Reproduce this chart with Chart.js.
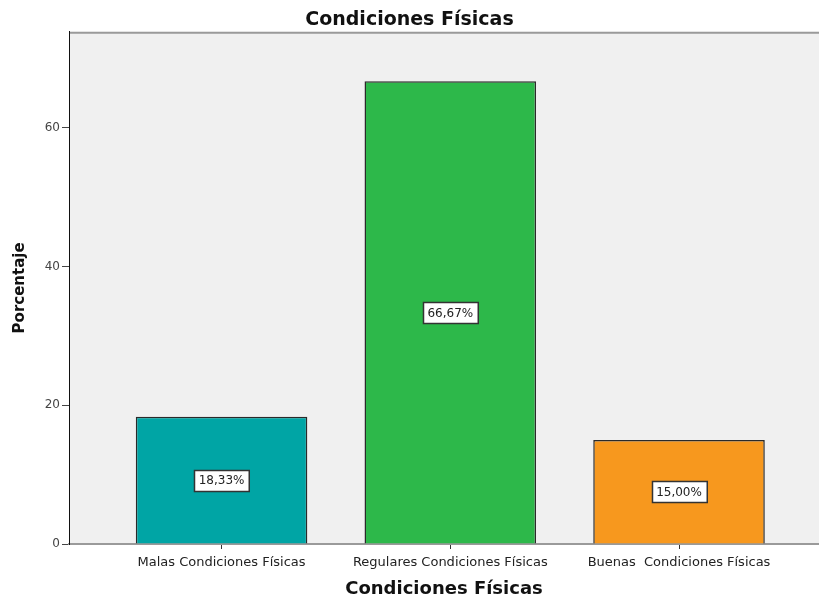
<!DOCTYPE html>
<html lang="es">
<head>
    <meta charset="UTF-8">
    <title>Condiciones Físicas</title>
    <script src="https://cdn.jsdelivr.net/npm/chart.js"></script>
    <style>
        body { margin: 0; background: #fff; }
        #wrap { width: 819px; height: 600px; }
    </style>
</head>
<body>
    <div id="wrap"><canvas id="chart"></canvas></div>

    <script>
        const categories = ["Malas Condiciones Físicas", "Regulares Condiciones Físicas", "Buenas  Condiciones Físicas"];
        const percentages = [18.33, 66.67, 15.00];
        const barColors = ["#00a5a5", "#2db84a", "#f7981e"];
        const yTicks = [0, 20, 40, 60];

        const FONT = "'DejaVu Sans', Arial, sans-serif";

        // gray plot background with a top frame line
        const plotBackground = {
            id: "plotBackground",
            beforeDraw(chart) {
                const { ctx, chartArea: a } = chart;
                ctx.save();
                ctx.fillStyle = "#f0f0f0";
                ctx.fillRect(a.left, a.top, a.right - a.left, a.bottom - a.top);
                ctx.strokeStyle = "#9a9a9a";
                ctx.lineWidth = 2;
                ctx.beginPath();
                ctx.moveTo(a.left, a.top + 1);
                ctx.lineTo(a.right, a.top + 1);
                ctx.stroke();
                ctx.restore();
            }
        };

        // boxed percentage labels in the middle of each bar
        const boxLabels = {
            id: "boxLabels",
            afterDatasetsDraw(chart) {
                const { ctx } = chart;
                const meta = chart.getDatasetMeta(0);
                ctx.save();
                ctx.font = "12px " + FONT;
                ctx.textAlign = "center";
                ctx.textBaseline = "middle";
                meta.data.forEach((bar, i) => {
                    const text = percentages[i].toFixed(2).replace(".", ",") + "%";
                    const cy = (bar.y + bar.base) / 2;
                    const w = ctx.measureText(text).width + 9;
                    const h = 21;
                    const x0 = Math.round(bar.x - w / 2) + 0.5;
                    const y0 = Math.round(cy - h / 2) + 0.5;
                    ctx.fillStyle = "#ffffff";
                    ctx.fillRect(x0, y0, w, h);
                    ctx.strokeStyle = "#333";
                    ctx.lineWidth = 1.5;
                    ctx.strokeRect(x0, y0, w, h);
                    ctx.fillStyle = "#222";
                    ctx.fillText(text, bar.x, cy + 1);
                });
                ctx.restore();
            }
        };

        new Chart(document.getElementById("chart"), {
            type: "bar",
            data: {
                datasets: [{
                    data: percentages.map((v, i) => ({ x: i, y: v })),
                    backgroundColor: barColors,
                    borderColor: "#2a2a2a",
                    borderWidth: 1.5,
                    barPercentage: 0.75,
                    categoryPercentage: 1
                }]
            },
            options: {
                responsive: true,
                maintainAspectRatio: false,
                animation: false,
                layout: { padding: 0 },
                plugins: {
                    legend: { display: false },
                    tooltip: { enabled: false },
                    title: {
                        display: true,
                        text: "Condiciones Físicas",
                        color: "#111",
                        font: { family: FONT, size: 19, weight: "bold" },
                        padding: { top: 9, bottom: 0 }
                    }
                },
                scales: {
                    x: {
                        type: "linear",
                        offset: false,
                        min: -0.667,
                        max: 2.612,
                        afterBuildTicks: axis => { axis.ticks = categories.map((c, i) => ({ value: i })); },
                        afterFit: axis => { axis.height = 56; },
                        border: { color: "#9a9a9a", width: 2 },
                        grid: { offset: false, drawOnChartArea: false, tickLength: 5, tickColor: "#333" },
                        ticks: {
                            autoSkip: false,
                            maxRotation: 0,
                            includeBounds: false,
                            padding: 6,
                            color: "#222",
                            font: { family: FONT, size: 13 },
                            callback: v => categories[v]
                        },
                        title: {
                            display: true,
                            text: "Condiciones Físicas",
                            color: "#111",
                            font: { family: FONT, size: 18, weight: "bold" },
                            padding: { top: 0, bottom: 0 }
                        }
                    },
                    y: {
                        min: 0,
                        max: 73.8,
                        afterBuildTicks: axis => { axis.ticks = yTicks.map(v => ({ value: v })); },
                        afterFit: axis => { axis.width = 69; },
                        border: { color: "#111", width: 1 },
                        grid: { drawOnChartArea: false, tickLength: 7, tickColor: "#444" },
                        ticks: {
                            includeBounds: false,
                            padding: 2,
                            color: "#444",
                            font: { family: FONT, size: 12 }
                        },
                        title: {
                            display: true,
                            text: "Porcentaje",
                            color: "#111",
                            font: { family: FONT, size: 15, weight: "bold" },
                            padding: { top: 11, bottom: 0 }
                        }
                    }
                }
            },
            plugins: [plotBackground, boxLabels]
        });
    </script>
</body>
</html>
